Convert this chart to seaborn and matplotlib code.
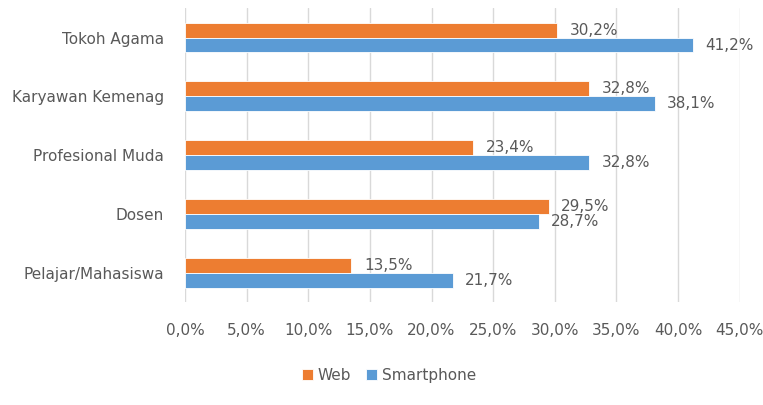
import matplotlib
matplotlib.use("Agg")
import matplotlib.pyplot as plt
import seaborn as sns
import pandas as pd
from matplotlib.ticker import FuncFormatter, MultipleLocator

categories = ["Tokoh Agama", "Karyawan Kemenag", "Profesional Muda", "Dosen", "Pelajar/Mahasiswa"]
web = [30.2, 32.8, 23.4, 29.5, 13.5]
smartphone = [41.2, 38.1, 32.8, 28.7, 21.7]
series_names = ["Web", "Smartphone"]
colors = ["#ED7D31", "#5B9BD5"]

df = pd.DataFrame({
    "cat": categories * 2,
    "val": web + smartphone,
    "series": [series_names[0]] * len(categories) + [series_names[1]] * len(categories),
})

sns.set_theme(style="white")
plt.rcParams['font.family'] = ['DejaVu Sans']
txt = "#595959"
fs = 11

fig = plt.figure(figsize=(7.63, 4.05), dpi=100)
ax = fig.add_axes([0.2425, 0.254, 0.727, 0.726])

sns.barplot(data=df, y="cat", x="val", hue="series", orient="h",
            palette=colors, width=0.51, ax=ax, order=categories,
            hue_order=series_names, saturation=1, edgecolor="white", linewidth=0.6,
            errorbar=None)

def fmt(v):
    return f"{v:.1f}".replace(".", ",") + "%"

for cont in ax.containers:
    ax.bar_label(cont, labels=[fmt(b.get_width()) for b in cont], padding=9,
                 color=txt, fontsize=fs)

ax.set_xlim(0, 45)
ax.xaxis.set_major_locator(MultipleLocator(5))
ax.xaxis.set_major_formatter(FuncFormatter(lambda v, p: fmt(v)))
ax.grid(axis="x", color="#D9D9D9", linewidth=1)
ax.set_axisbelow(True)
for s in ax.spines.values():
    s.set_visible(False)
ax.tick_params(axis="both", length=0, colors=txt, labelsize=fs)
ax.tick_params(axis="x", pad=15)
ax.tick_params(axis="y", pad=15)
ax.set_xlabel("")
ax.set_ylabel("")

handles, labels = ax.get_legend_handles_labels()
ax.get_legend().remove()
fig.legend(handles, labels, loc="center", bbox_to_anchor=(0.51, 0.073), ncol=2,
           frameon=False, fontsize=fs, labelcolor=txt, handlelength=0.7,
           handleheight=0.7, handletextpad=0.3, columnspacing=1.0)

fig.savefig("out.png", dpi=100)
